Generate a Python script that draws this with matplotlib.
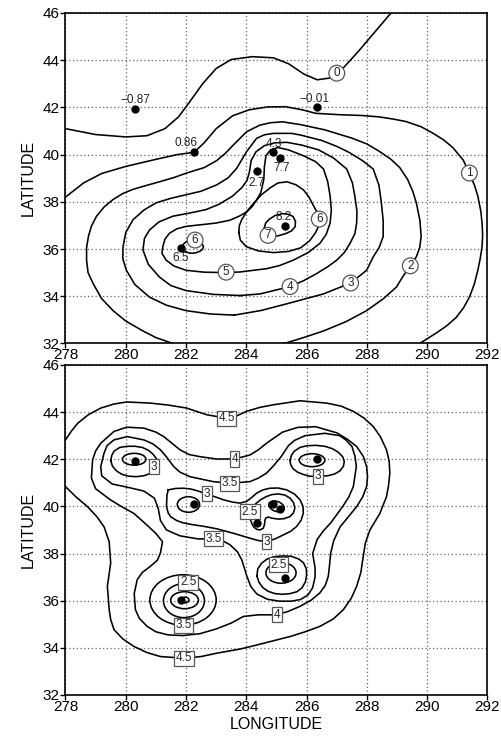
import matplotlib
matplotlib.use("Agg")
import matplotlib.pyplot as plt
from matplotlib.patches import Ellipse

plt.rcParams['font.family'] = ['Liberation Sans', 'DejaVu Sans']

# stations (same sites in both panels)
stn_lon = [280.32, 286.33, 282.27, 284.87, 285.12, 284.36, 285.28, 281.83]
stn_lat = [41.94, 42.01, 40.10, 40.10, 39.87, 39.31, 36.96, 36.03]
stn_val = ['\u22120.87', '\u22120.01', '0.86', '4.3', '7.7', '2.7', '8.2', '6.5']
stn_txt_lon = [280.33, 286.25, 282.00, 284.92, 285.17, 284.34, 285.23, 281.83]
stn_txt_lat = [42.33, 42.37, 40.48, 40.45, 39.45, 38.78, 37.34, 35.62]

# ---- top panel: contour lines (lon, lat)
top_c0 = [(278.0, 41.1), (279.0, 40.85), (280.0, 40.75), (280.7, 40.8), (281.3, 41.1),
          (281.75, 41.6), (282.1, 42.2), (282.55, 43.0), (283.0, 43.65), (283.5, 44.03),
          (284.2, 44.15), (284.9, 44.1), (285.4, 43.85), (285.9, 43.42), (286.35, 43.17),
          (286.8, 43.25), (287.2, 43.65), (287.7, 44.35), (288.2, 45.1), (288.8, 46.0),
          (289.0, 46.3)]
top_c1 = [(277.8, 38.0), (278.0, 38.2), (278.6, 38.8), (279.2, 39.2), (280.0, 39.5),
          (281.0, 39.8), (281.7, 40.0), (282.27, 40.1), (282.6, 40.5), (283.0, 41.1),
          (283.55, 41.65), (284.1, 41.9), (284.7, 42.02), (285.3, 42.03), (285.85, 41.9),
          (286.3, 41.75), (287.1, 41.69), (287.8, 41.66), (288.4, 41.6), (288.9, 41.5),
          (289.3, 41.4), (289.8, 41.18), (290.2, 40.9), (290.55, 40.62), (290.85, 40.3),
          (291.2, 39.76), (291.4, 39.2), (291.57, 38.7), (291.68, 38.24), (291.78, 37.6),
          (291.82, 37.1), (291.84, 36.6), (291.82, 36.1), (291.76, 35.6), (291.68, 35.1),
          (291.56, 34.5), (291.4, 33.96), (291.2, 33.5), (290.96, 33.1), (290.65, 32.75),
          (290.3, 32.44), (289.75, 32.0), (289.5, 31.8)]
top_c2 = [(282.5, 31.85), (281.56, 32.0), (281.0, 32.25), (280.57, 32.53), (280.0, 32.95),
          (279.58, 33.39), (279.2, 33.9), (278.92, 34.53), (278.75, 35.0), (278.7, 35.53),
          (278.7, 36.05), (278.76, 36.53), (278.86, 36.97), (279.03, 37.39), (279.28, 37.78),
          (279.58, 38.1), (279.9, 38.35), (280.24, 38.53), (280.7, 38.7), (281.12, 38.85),
          (281.6, 39.03), (282.02, 39.22), (282.6, 39.45), (283.02, 39.75), (283.3, 40.05),
          (283.57, 40.41), (284.01, 40.97), (284.45, 41.25), (284.8, 41.35), (285.2, 41.39),
          (285.8, 41.27), (286.6, 41.05), (287.5, 40.7), (288.0, 40.45), (288.4, 40.15),
          (288.8, 39.8), (289.09, 39.45), (289.35, 38.95), (289.52, 38.45), (289.64, 37.96),
          (289.76, 37.2), (289.8, 36.53), (289.75, 36.05), (289.64, 35.67), (289.44, 35.29),
          (289.2, 34.85), (288.98, 34.39), (288.55, 33.9), (287.99, 33.39), (287.3, 32.92),
          (286.56, 32.53), (285.9, 32.25), (285.34, 32.03), (284.5, 31.85)]
top_c3 = [(283.6, 33.2), (282.8, 33.25), (282.0, 33.39), (281.35, 33.62), (280.79, 33.96),
          (280.3, 34.5), (280.02, 35.1), (279.9, 35.6), (279.91, 36.1), (280.0, 36.7),
          (280.24, 37.24), (280.6, 37.65), (281.01, 37.96), (281.5, 38.15), (282.0, 38.3),
          (282.5, 38.45), (283.02, 38.72), (283.4, 39.02), (283.68, 39.42), (284.01, 40.13),
          (284.34, 40.69), (284.6, 40.84), (284.9, 40.9), (285.5, 40.9), (285.8, 40.83),
          (286.5, 40.6), (287.0, 40.35), (287.4, 40.1), (287.85, 39.75), (288.21, 39.39),
          (288.4, 38.7), (288.48, 37.96), (288.54, 37.2), (288.54, 36.53), (288.4, 36.05),
          (288.21, 35.67), (287.99, 35.1), (287.46, 34.56), (286.56, 34.1), (285.4, 33.7),
          (284.5, 33.4), (283.6, 33.2)]
top_c4 = [(283.8, 34.03), (282.9, 34.08), (282.0, 34.24), (281.5, 34.45), (281.12, 34.81),
          (280.75, 35.35), (280.57, 35.96), (280.62, 36.45), (280.79, 36.81), (281.1, 37.15),
          (281.56, 37.39), (282.1, 37.52), (282.66, 37.67), (283.1, 37.9), (283.54, 38.24),
          (283.85, 38.6), (284.02, 38.9), (284.1, 39.25), (284.16, 39.75), (284.32, 40.12),
          (284.6, 40.38), (284.95, 40.5), (285.35, 40.52), (285.85, 40.4), (286.4, 40.2),
          (286.9, 39.85), (287.33, 39.39), (287.52, 38.8), (287.6, 38.24), (287.67, 37.6),
          (287.66, 37.1), (287.6, 36.65), (287.44, 36.24), (287.25, 35.85), (287.0, 35.53),
          (286.7, 35.25), (286.33, 34.96), (285.9, 34.66), (285.45, 34.41), (284.46, 34.1),
          (283.8, 34.03)]
top_c5 = [(283.32, 35.0), (282.6, 35.02), (282.0, 35.1), (281.6, 35.28), (281.34, 35.53),
          (281.2, 35.82), (281.23, 36.1), (281.3, 36.42), (281.45, 36.67), (281.7, 36.86),
          (282.0, 36.96), (282.99, 37.1), (283.45, 37.22), (283.76, 37.39), (284.02, 37.58),
          (284.2, 37.81), (284.35, 38.1), (284.48, 38.39), (284.58, 38.95), (284.6, 39.5),
          (284.65, 39.95), (284.8, 40.2), (285.05, 40.3), (285.4, 40.2), (285.9, 39.95),
          (286.3, 39.7), (286.56, 39.39), (286.7, 38.85), (286.78, 38.24), (286.82, 37.65),
          (286.78, 37.1), (286.65, 36.62), (286.44, 36.24), (286.05, 35.85), (285.56, 35.53),
          (285.1, 35.3), (284.68, 35.17), (283.8, 35.03), (283.32, 35.0)]
top_c6 = [(283.75, 36.7), (283.77, 37.0), (283.85, 37.25), (284.02, 37.6), (284.25, 37.95),
          (284.5, 38.3), (284.8, 38.6), (285.05, 38.8), (285.35, 38.85), (285.65, 38.72),
          (285.9, 38.5), (286.08, 38.2), (286.2, 37.9), (286.35, 37.55), (286.42, 37.27),
          (286.4, 36.98), (286.3, 36.7), (286.1, 36.35), (285.8, 36.05), (285.4, 35.9),
          (284.9, 35.85), (284.4, 35.92), (284.0, 36.1), (283.8, 36.38), (283.75, 36.7)]
top_c6b = [(281.88, 36.1), (281.92, 36.22), (282.0, 36.3), (282.1, 36.37), (282.2, 36.4),
           (282.35, 36.38), (282.45, 36.33), (282.54, 36.22), (282.58, 36.1), (282.54, 35.98),
           (282.45, 35.9), (282.32, 35.84), (282.2, 35.82), (282.08, 35.84), (281.98, 35.9),
           (281.9, 35.99), (281.88, 36.1)]
top_c7 = [(284.6, 36.9), (284.64, 37.1), (284.75, 37.25), (284.95, 37.42), (285.2, 37.5),
          (285.4, 37.47), (285.55, 37.38), (285.63, 37.17), (285.62, 36.95), (285.5, 36.77),
          (285.3, 36.65), (285.05, 36.56), (284.8, 36.52), (284.66, 36.58), (284.6, 36.7),
          (284.6, 36.9)]
top_lines = [top_c0, top_c1, top_c2, top_c3, top_c4, top_c5, top_c6, top_c6b, top_c7]

top_lab_text = ['0', '1', '2', '3', '4', '5', '6', '6', '7']
top_lab_lon = [287.0, 291.4, 289.44, 287.46, 285.45, 283.33, 286.42, 282.3, 284.72]
top_lab_lat = [43.45, 39.22, 35.29, 34.56, 34.41, 35.02, 37.27, 36.38, 36.58]

# ---- bottom panel: contour lines (lon, lat)
bot_45 = [(277.8, 42.6), (278.0, 42.82), (278.2, 43.2), (278.41, 43.53), (278.75, 43.88),
          (279.17, 44.17), (279.6, 44.34), (280.03, 44.43), (280.82, 44.38), (281.4, 44.3),
          (282.02, 44.17), (282.68, 43.89), (283.34, 43.74), (283.7, 43.85), (284.0, 44.03),
          (284.45, 44.2), (284.9, 44.31), (285.78, 44.48), (286.67, 44.38), (287.15, 44.25),
          (287.55, 44.03), (287.9, 43.75), (288.21, 43.39), (288.45, 42.95), (288.65, 42.4),
          (288.74, 41.9), (288.76, 41.4), (288.72, 40.9), (288.65, 40.41), (288.43, 39.7),
          (288.1, 39.0), (287.95, 38.45), (287.88, 37.89), (287.8, 37.2), (287.66, 36.61),
          (287.48, 36.1), (287.22, 35.62), (286.88, 35.22), (286.44, 34.91), (285.95, 34.68),
          (285.45, 34.48), (284.35, 34.12), (283.8, 33.95), (283.01, 33.77), (282.5, 33.63),
          (281.94, 33.56), (281.15, 33.63), (280.7, 33.8), (280.27, 34.06), (279.9, 34.38),
          (279.61, 34.77), (279.5, 35.2), (279.45, 35.62), (279.39, 36.61), (279.5, 37.6),
          (279.45, 38.5), (279.28, 39.13), (279.05, 39.55), (278.73, 39.99), (278.35, 40.4),
          (278.0, 40.84), (277.8, 41.0)]
bot_4 = [(283.61, 42.01), (284.12, 42.18), (284.4, 42.4), (284.67, 42.68), (285.2, 43.15),
         (285.7, 43.35), (286.3, 43.38), (287.0, 43.12), (287.35, 42.85), (287.66, 42.54),
         (287.88, 42.12), (287.99, 41.69), (288.02, 41.25), (287.99, 40.84), (287.86, 40.4),
         (287.66, 39.99), (287.38, 39.55), (287.11, 39.13), (286.9, 38.55), (286.8, 38.03),
         (286.76, 37.5), (286.72, 37.04), (286.62, 36.65), (286.44, 36.33), (286.15, 36.02),
         (285.78, 35.76), (285.4, 35.55), (285.01, 35.4), (284.4, 35.4), (283.9, 35.33),
         (283.5, 35.05), (283.0, 34.8), (282.46, 34.6), (281.9, 34.52), (281.4, 34.55),
         (281.0, 34.68), (280.71, 34.91), (280.45, 35.25), (280.32, 35.62), (280.28, 36.3),
         (280.38, 36.89), (280.55, 37.2), (280.82, 37.46), (281.05, 37.72), (281.15, 38.03),
         (281.22, 38.5), (281.0, 38.85), (280.71, 39.2), (280.27, 39.7), (279.85, 40.0),
         (279.5, 40.27), (279.0, 40.75), (278.86, 41.2), (278.9, 41.97), (279.0, 42.35),
         (279.17, 42.68), (279.61, 43.18), (280.03, 43.36), (280.6, 43.32), (281.0, 43.15),
         (281.26, 42.96), (281.8, 42.4), (282.1, 42.2), (282.46, 42.11), (283.01, 42.01),
         (283.61, 42.01)]
bot_35 = [(283.45, 40.98), (282.9, 41.05), (282.13, 41.26), (281.8, 41.45), (281.59, 41.69),
          (281.35, 42.1), (281.15, 42.4), (280.9, 42.65), (280.6, 42.82), (280.05, 42.96),
          (279.61, 42.82), (279.38, 42.58), (279.28, 42.26), (279.17, 41.69), (279.2, 41.3),
          (279.55, 40.95), (280.1, 40.8), (280.6, 40.65), (280.95, 40.35), (281.08, 39.9),
          (281.15, 39.4), (281.35, 39.0), (281.8, 38.75), (282.4, 38.62), (282.91, 38.62),
          (283.2, 38.55), (283.46, 38.37), (283.7, 38.08), (283.85, 37.73), (284.02, 37.03),
          (284.15, 36.6), (284.35, 36.28), (284.7, 36.06), (285.1, 35.98), (285.5, 35.98),
          (285.8, 36.05), (286.05, 36.25), (286.2, 36.55), (286.28, 37.0), (286.28, 37.4),
          (286.2, 38.0), (286.35, 38.6), (286.55, 38.95), (286.8, 39.3), (287.2, 40.0),
          (287.4, 40.4), (287.55, 40.84), (287.65, 41.7), (287.6, 42.15), (287.5, 42.55),
          (287.3, 42.82), (287.1, 43.0), (286.6, 43.1), (285.95, 43.0), (285.6, 42.8),
          (285.4, 42.58), (285.15, 42.1), (284.9, 41.72), (284.67, 41.41), (284.4, 41.2),
          (284.12, 41.05), (283.45, 40.98)]
bot_3_nw = [(279.5, 41.95), (279.54, 42.18), (279.62, 42.35), (279.8, 42.5), (280.05, 42.55),
            (280.3, 42.55), (280.55, 42.5), (280.75, 42.38), (280.9, 42.22), (281.02, 42.02),
            (281.06, 41.82), (281.02, 41.65), (280.93, 41.5), (280.78, 41.38), (280.6, 41.3),
            (280.35, 41.26), (280.1, 41.28), (279.87, 41.36), (279.7, 41.5), (279.56, 41.7),
            (279.5, 41.95)]
bot_3_ne = [(285.45, 41.95), (285.5, 42.18), (285.6, 42.35), (285.78, 42.5), (286.0, 42.57),
            (286.3, 42.59), (286.6, 42.55), (286.85, 42.45), (287.05, 42.3), (287.2, 42.1),
            (287.25, 41.9), (287.22, 41.7), (287.1, 41.5), (286.92, 41.37), (286.7, 41.3),
            (286.35, 41.27), (286.1, 41.28), (285.9, 41.35), (285.7, 41.45), (285.55, 41.6),
            (285.47, 41.78), (285.45, 41.95)]
bot_3_mid = [(281.41, 40.7), (281.65, 40.76), (281.91, 40.77), (282.15, 40.74), (282.35, 40.67),
             (282.69, 40.53), (283.24, 40.28), (283.55, 40.18), (283.79, 40.14), (284.01, 40.21),
             (284.18, 40.38), (284.34, 40.56), (284.55, 40.7), (284.78, 40.77), (285.05, 40.78),
             (285.34, 40.7), (285.6, 40.52), (285.78, 40.28), (285.88, 40.0), (285.89, 39.71),
             (285.82, 39.42), (285.67, 39.15), (285.48, 38.95), (285.23, 38.79), (284.95, 38.62),
             (284.67, 38.51), (284.4, 38.55), (284.12, 38.65), (283.57, 38.86), (283.02, 39.05),
             (282.6, 39.15), (282.24, 39.22), (281.9, 39.3), (281.69, 39.4), (281.5, 39.55),
             (281.41, 39.71), (281.35, 40.0), (281.36, 40.28), (281.37, 40.5), (281.41, 40.7)]
bot_3_se = [(284.35, 37.05), (284.38, 37.35), (284.5, 37.58), (284.68, 37.76), (284.9, 37.86),
            (285.2, 37.9), (285.5, 37.88), (285.75, 37.76), (285.9, 37.6), (285.99, 37.35),
            (286.0, 37.1), (285.96, 36.8), (285.85, 36.55), (285.68, 36.38), (285.45, 36.3),
            (285.2, 36.27), (284.95, 36.3), (284.72, 36.4), (284.55, 36.55), (284.42, 36.78),
            (284.35, 37.05)]
bot_25_mid = [(284.12, 39.78), (284.2, 39.96), (284.3, 40.1), (284.47, 40.28), (284.67, 40.42),
              (284.85, 40.5), (285.06, 40.53), (285.28, 40.48), (285.45, 40.35), (285.57, 40.15),
              (285.61, 39.92), (285.56, 39.72), (285.45, 39.57), (285.26, 39.48), (285.06, 39.46),
              (284.85, 39.5), (284.72, 39.55), (284.64, 39.5), (284.62, 39.42), (284.6, 39.22),
              (284.56, 39.07), (284.45, 39.0), (284.34, 39.03), (284.24, 39.13), (284.18, 39.29),
              (284.13, 39.45), (284.12, 39.57), (284.12, 39.78)]
bot_lines = [bot_45, bot_4, bot_35, bot_3_nw, bot_3_ne, bot_3_mid, bot_3_se, bot_25_mid]

# small closed rings near stations: centre lon, centre lat, width (deg), height (deg), tilt
ring_lon = [280.28, 286.18, 282.08, 285.0, 285.15, 281.97, 281.95, 281.93, 281.9]
ring_lat = [42.0, 41.96, 40.08, 40.0, 37.18, 36.03, 36.02, 36.0, 36.03]
ring_w = [0.78, 0.85, 0.74, 0.56, 1.0, 0.25, 0.92, 1.36, 2.2]
ring_h = [0.5, 0.55, 0.66, 0.4, 0.88, 0.24, 0.72, 1.44, 2.14]
ring_tilt = [0, 0, 0, -35, 0, 0, 0, 0, 0]

bot_lab_text = ['4.5', '4.5', '4', '4', '3.5', '3.5', '3.5', '3', '3', '3', '3',
                '2.5', '2.5', '2.5']
bot_lab_lon = [283.34, 281.94, 283.61, 285.01, 283.45, 282.91, 281.92, 280.93, 282.69,
               286.37, 284.67, 284.12, 285.07, 282.07]
bot_lab_lat = [43.74, 33.56, 42.01, 35.40, 40.98, 38.62, 34.96, 41.69, 40.53,
               41.28, 38.51, 39.78, 37.52, 36.78]

xticks = list(range(278, 293, 2))
yticks = list(range(32, 47, 2))


def setup(ax):
    ax.set_xlim(278, 292)
    ax.set_ylim(32, 46)
    ax.set_xticks(xticks)
    ax.set_yticks(yticks)
    ax.grid(True, color='#666666', linestyle=(0, (1, 2)), linewidth=0.9)
    ax.set_axisbelow(True)
    ax.tick_params(direction='out', length=3.5, width=1, labelsize=11, pad=1)
    ax.tick_params(axis='x', pad=0)
    for s in ax.spines.values():
        s.set_linewidth(1.2)
    ax.set_ylabel('LATITUDE', fontsize=11.5, labelpad=5)


def draw_line(ax, pts):
    lon = [p[0] for p in pts]
    lat = [p[1] for p in pts]
    ax.plot(lon, lat, color='black', lw=1.15, solid_joinstyle='round', zorder=3)


fig = plt.figure(figsize=(5.01, 7.38), dpi=100)
ax1 = fig.add_axes([0.1307, 0.5346, 0.8423, 0.4478])
ax2 = fig.add_axes([0.1307, 0.0583, 0.8423, 0.4472])

# top panel
setup(ax1)
for line in top_lines:
    draw_line(ax1, line)
for t, x, y in zip(top_lab_text, top_lab_lon, top_lab_lat):
    ax1.text(x, y, t, ha='center', va='center', fontsize=8.5, color='#222222', zorder=5,
             bbox=dict(boxstyle='circle,pad=0.16', fc='white', ec='#555555', lw=0.9))
ax1.plot(stn_lon, stn_lat, 'o', color='black', ms=5, zorder=6)
for t, x, y in zip(stn_val, stn_txt_lon, stn_txt_lat):
    ax1.text(x, y, t, ha='center', va='center', fontsize=8.5, color='#222222', zorder=6)

# bottom panel
setup(ax2)
for lbl in ax2.get_yticklabels():
    lbl.set_verticalalignment('center_baseline')
ax2.set_xlabel('LONGITUDE', fontsize=11.5, labelpad=2)
for line in bot_lines:
    draw_line(ax2, line)
for x, y, w, h, a in zip(ring_lon, ring_lat, ring_w, ring_h, ring_tilt):
    ax2.add_patch(Ellipse((x, y), w, h, angle=a, fill=False, ec='black', lw=1.15, zorder=3))
for t, x, y in zip(bot_lab_text, bot_lab_lon, bot_lab_lat):
    ax2.text(x, y, t, ha='center', va='center', fontsize=8.5, color='#222222', zorder=5,
             bbox=dict(boxstyle='square,pad=0.13', fc='white', ec='#555555', lw=0.9))
ax2.plot(stn_lon, stn_lat, 'o', color='black', ms=5, zorder=6)

fig.savefig('out.png', dpi=100)
